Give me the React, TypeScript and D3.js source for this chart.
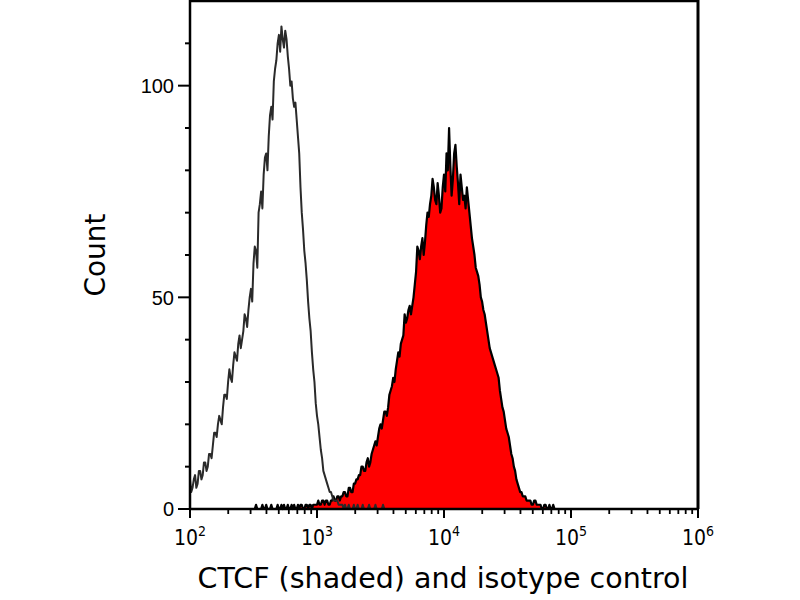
import { scaleLinear, scaleLog, line, area } from "d3";

// isotype control histogram: bins spaced in log10 of intensity, counts per bin
const isoStart = 2.0
const isoStep = 0.01
const isoCounts = [
  7, 4, 5, 7, 8, 5, 6, 9, 9, 7, 8, 11, 11, 9, 10, 13, 13, 12, 15, 18,
  18, 17, 20, 22, 21, 20, 24, 27, 27, 26, 30, 33, 31, 30, 34, 37, 36, 35, 39, 41,
  38, 40, 42, 46, 45, 43, 47, 50, 52, 49, 58, 62, 61, 57, 70, 72, 75, 71, 79, 83,
  84, 80, 88, 93, 95, 92, 101, 104, 106, 110, 112, 108, 114, 111, 109, 113, 111, 107, 104, 100,
  101, 97, 95, 96, 92, 88, 84, 76, 70, 66, 61, 58, 54, 49, 45, 42, 37, 33, 30, 25,
  22, 20, 17, 14, 12, 9, 8, 7, 6, 5, 4, 4, 3, 2, 2, 2, 2, 1, 1, 1,
  1, 0, 1, 0, 0, 1, 0, 0, 0, 1, 0, 0, 1, 0, 0, 0, 1, 0, 0, 0,
  0, 1, 0, 0, 0, 0, 1, 0, 0, 0, 0, 0, 1, 0, 0, 0, 0, 0, 0, 0,
]

// CTCF (shaded) histogram
const ctcfStart = 2.5
const ctcfStep = 0.01
const ctcfCounts = [
  0, 0, 1, 0, 0, 0, 0, 1, 0, 0, 1, 0, 0, 0, 1, 0, 0, 0, 0, 1,
  0, 0, 1, 0, 1, 0, 0, 1, 0, 0, 1, 0, 1, 0, 0, 1,
  0, 1, 1, 0, 0, 1, 1, 0, 1, 1, 0, 1, 1, 1, 1, 2, 1, 1, 2, 2,
  1, 2, 2, 1, 1, 2, 2, 3, 2, 2, 3, 3, 2, 3, 3, 4, 4, 3, 3, 5,
  5, 4, 4, 6, 6, 7, 7, 8, 8, 10, 10, 9, 9, 11, 12, 10, 11, 13, 14, 15,
  16, 15, 17, 19, 20, 19, 21, 23, 23, 22, 24, 27, 28, 29, 31, 30, 33, 35, 37, 36,
  39, 40, 41, 46, 44, 45, 47, 48, 46, 48, 50, 53, 56, 62, 61, 59, 62, 64, 60, 63,
  67, 70, 69, 72, 74, 78, 76, 73, 72, 77, 74, 70, 71, 76, 79, 75, 84, 80, 90, 81,
  74, 78, 84, 86, 81, 77, 72, 79, 76, 73, 74, 71, 76, 73, 70, 67, 64, 62, 60, 57,
  56, 55, 53, 50, 49, 47, 46, 44, 42, 40, 38, 37, 36, 35, 34, 33, 32, 31, 28, 26,
  24, 23, 21, 19, 18, 17, 15, 13, 12, 10, 9, 7, 6, 5, 4, 4, 3, 3, 3, 2,
  2, 2, 2, 1, 1, 2, 2, 1, 1, 1, 1, 0, 0, 1, 1, 0, 0, 1, 0, 0,
  1, 0, 0, 0, 0,
]

const yTicks = [0, 10, 20, 30, 40, 50, 60, 70, 80, 90, 100, 110]
const yLabels = [0, 50, 100]
const xDecades = [2, 3, 4, 5, 6]

const W = 800
const H = 600
const left = 190
const right = 698
const top = 1
const bottom = 509

type Bin = { v: number; c: number }

export default function App() {
  const x = scaleLog().domain([1e2, 1e6]).range([left, right])
  const y = scaleLinear().domain([0, 120]).range([bottom, top])

  const iso: Bin[] = isoCounts.map((c, i) => ({ v: Math.pow(10, isoStart + i * isoStep), c }))
  const ctcf: Bin[] = ctcfCounts.map((c, i) => ({ v: Math.pow(10, ctcfStart + i * ctcfStep), c }))

  const path = line<Bin>()
    .x(d => x(d.v))
    .y(d => y(d.c))
  const fillPath = area<Bin>()
    .x(d => x(d.v))
    .y0(bottom)
    .y1(d => y(d.c))

  // minor ticks 2..9 in each decade
  const xMinor: number[] = []
  for (let d = 2; d < 6; d++) {
    for (let k = 2; k <= 9; k++) xMinor.push(k * Math.pow(10, d))
  }

  return (
    <div style={{ position: "absolute", left: 0, top: 0 }}>
      <svg width={W} height={H} style={{ display: "block", background: "#fff" }}>
        <path d={fillPath(ctcf) ?? ""} fill="#ff0000" />
        <path d={path(ctcf) ?? ""} fill="none" stroke="#000" strokeWidth={2.2} strokeLinejoin="round" />
        <path d={path(iso) ?? ""} fill="none" stroke="#2a2a2a" strokeWidth={2} strokeLinejoin="round" />

        {/* frame */}
        <line x1={left} x2={right} y1={top} y2={top} stroke="#000" strokeWidth={2.5} />
        <line x1={right} x2={right} y1={top - 1} y2={bottom} stroke="#000" strokeWidth={3} />
        <line x1={left} x2={left} y1={top - 1} y2={bottom} stroke="#000" strokeWidth={2.5} />
        <line x1={left} x2={right} y1={bottom} y2={bottom} stroke="#000" strokeWidth={2.5} />

        {yTicks.map(t => (
          <line key={"yt" + t} x1={left - (yLabels.includes(t) ? 12 : 5)} x2={left}
            y1={y(t)} y2={y(t)} stroke="#000" strokeWidth={2} />
        ))}
        {yLabels.map(t => (
          <text key={"yl" + t} x={174} y={y(t)} dy="0.36em" textAnchor="end"
            fontFamily="Liberation Sans, Arial, sans-serif" fontSize={20}>{t}</text>
        ))}

        {xMinor.map(v => (
          <line key={"xm" + v} x1={x(v)} x2={x(v)} y1={bottom} y2={bottom + 5}
            stroke="#000" strokeWidth={1.8} />
        ))}
        {xDecades.map(d => (
          <g key={"xd" + d}>
            <line x1={x(Math.pow(10, d))} x2={x(Math.pow(10, d))} y1={bottom} y2={bottom + 9}
              stroke="#000" strokeWidth={2} />
            <text x={x(Math.pow(10, d))} y={545} textAnchor="middle"
              fontFamily="DejaVu Sans Condensed, DejaVu Sans, sans-serif" fontSize={21}>
              10<tspan dy={-9} fontSize={14}>{d}</tspan>
            </text>
          </g>
        ))}

        <text x={443} y={588} textAnchor="middle"
          fontFamily="DejaVu Sans, sans-serif" fontSize={28.5}>CTCF (shaded) and isotype control</text>
        <text transform="translate(105,255) rotate(-90)" textAnchor="middle"
          fontFamily="DejaVu Sans, sans-serif" fontSize={28}>Count</text>
      </svg>
    </div>
  )
}
